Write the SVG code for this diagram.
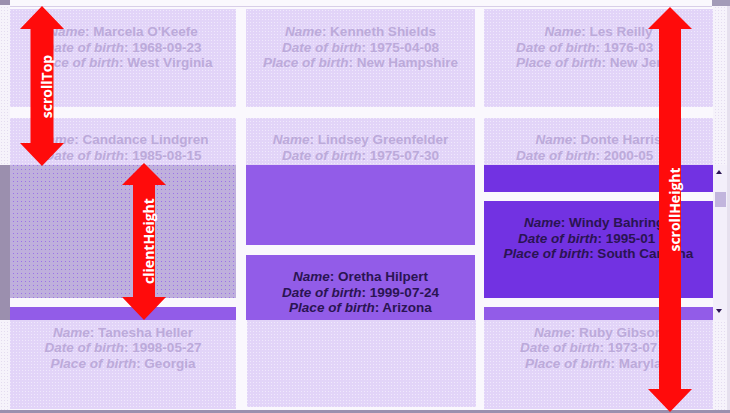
<svg xmlns="http://www.w3.org/2000/svg" width="730" height="413" viewBox="0 0 730 413">
<style>
.t{font-family:"Liberation Sans",Arial,sans-serif;font-weight:bold;font-size:13.5px}
.f{fill:#bcaada}
.d{fill:#2a1452}
.m{text-anchor:middle}
.i{font-style:italic}
.fade{fill:url(#fade)}
.arr{fill:#ff0b0b}
.lbl{font-family:"Open Sans","DejaVu Sans",sans-serif;font-weight:bold;font-size:14px;fill:#ffffff;text-anchor:middle}
</style>
<defs>
<pattern id="fade" width="3" height="3" patternUnits="userSpaceOnUse">
<rect width="3" height="3" fill="#e2d4f8"/>
<rect x="1" y="1" width="1" height="1" fill="#f0e9fc"/>
</pattern>
<pattern id="dots" width="4" height="4" patternUnits="userSpaceOnUse">
<rect width="4" height="4" fill="#bfb0dc"/>
<rect x="1" y="1" width="1" height="1" fill="#9b72e8"/>
</pattern>
<pattern id="light" width="3" height="3" patternUnits="userSpaceOnUse">
<rect width="3" height="3" fill="#f6f3fb"/>
<rect x="1" y="1" width="1" height="1" fill="#e4dcf0"/>
</pattern>
</defs>
<rect width="730" height="413" fill="#faf8fd"/>
<g id="frame">
<rect x="0" y="0" width="10" height="413" fill="url(#light)"/>
<rect x="0" y="0" width="10" height="5" fill="#9b8fae"/>
<rect x="0" y="165" width="10" height="155" fill="#9b8fae"/>
<rect x="712" y="0" width="18" height="6" fill="#a39bb8"/>
<rect x="713" y="6" width="14" height="404" fill="url(#light)"/>
<rect x="727" y="6" width="3" height="404" fill="#e6e0ee"/>
<line x1="10" y1="6.5" x2="712" y2="6.5" stroke="#d8cee8" stroke-width="1"/>
<rect x="0" y="410" width="730" height="3" fill="#9b8fae"/>
</g>
<g id="scrollbar">
<rect x="713" y="165" width="14" height="155" fill="#f3effa"/>
<polygon points="716,174 719,170 722,174" fill="#2a1452"/>
<polygon points="716,309 719,313 722,309" fill="#2a1452"/>
<rect x="715" y="192" width="11" height="15" fill="#c2b5dd"/>
</g>
<g id="card-marcela">
<rect x="10" y="9" width="226" height="98" class="fade"/>
<text class="t f m" x="123" y="36"><tspan class="i">Name</tspan>: Marcela O'Keefe</text>
<text class="t f m" x="123" y="52"><tspan class="i">Date of birth</tspan>: 1968-09-23</text>
<text class="t f m" x="123" y="67"><tspan class="i">Place of birth</tspan>: West Virginia</text>
</g>
<g id="card-candance">
<rect x="10" y="118" width="226" height="47" class="fade"/>
<rect x="10" y="165" width="226" height="133" fill="url(#dots)"/>
<text class="t f m" x="123" y="144"><tspan class="i">Name</tspan>: Candance Lindgren</text>
<text class="t f m" x="123" y="160"><tspan class="i">Date of birth</tspan>: 1985-08-15</text>
</g>
<g id="card-tanesha">
<rect x="10" y="307" width="226" height="13" fill="#925ce8"/>
<rect x="10" y="320" width="226" height="89" class="fade"/>
<text class="t f m" x="123" y="337"><tspan class="i">Name</tspan>: Tanesha Heller</text>
<text class="t f m" x="123" y="352"><tspan class="i">Date of birth</tspan>: 1998-05-27</text>
<text class="t f m" x="123" y="368"><tspan class="i">Place of birth</tspan>: Georgia</text>
</g>
<g id="card-kenneth">
<rect x="246" y="9" width="229" height="98" class="fade"/>
<text class="t f m" x="360.5" y="36"><tspan class="i">Name</tspan>: Kenneth Shields</text>
<text class="t f m" x="360.5" y="52"><tspan class="i">Date of birth</tspan>: 1975-04-08</text>
<text class="t f m" x="360.5" y="67"><tspan class="i">Place of birth</tspan>: New Hampshire</text>
</g>
<g id="card-lindsey">
<rect x="246" y="118" width="229" height="47" class="fade"/>
<rect x="246" y="165" width="229" height="80" fill="#925ce8"/>
<text class="t f m" x="360.5" y="144"><tspan class="i">Name</tspan>: Lindsey Greenfelder</text>
<text class="t f m" x="360.5" y="160"><tspan class="i">Date of birth</tspan>: 1975-07-30</text>
</g>
<g id="card-oretha">
<rect x="246" y="255" width="229" height="65" fill="#925ce8"/>
<rect x="247" y="320" width="229" height="87" class="fade"/>
<text class="t d m" x="360.5" y="281"><tspan class="i">Name</tspan>: Oretha Hilpert</text>
<text class="t d m" x="360.5" y="297"><tspan class="i">Date of birth</tspan>: 1999-07-24</text>
<text class="t d m" x="360.5" y="312"><tspan class="i">Place of birth</tspan>: Arizona</text>
</g>
<g id="card-les">
<rect x="484" y="9" width="229" height="98" class="fade"/>
<text class="t f m" x="598.5" y="36"><tspan class="i">Name</tspan>: Les Reilly</text>
<text class="t f" x="516" y="52"><tspan class="i">Date of birth</tspan>: 1976-03</text>
<text class="t f" x="516" y="67"><tspan class="i">Place of birth</tspan>: New Jer</text>
</g>
<g id="card-donte">
<rect x="484" y="118" width="229" height="47" class="fade"/>
<rect x="484" y="165" width="229" height="27" fill="#7232e2"/>
<text class="t f m" x="598.5" y="144"><tspan class="i">Name</tspan>: Donte Harris</text>
<text class="t f" x="516" y="160"><tspan class="i">Date of birth</tspan>: 2000-05</text>
</g>
<g id="card-windy">
<rect x="484" y="201" width="229" height="97" fill="#7232e2"/>
<text class="t d" x="524" y="227"><tspan class="i">Name</tspan>: Windy Bahring</text>
<text class="t d" x="518" y="243"><tspan class="i">Date of birth</tspan>: 1995-01</text>
<text class="t d m" x="598.5" y="258"><tspan class="i">Place of birth</tspan>: South Carolina</text>
</g>
<g id="card-ruby">
<rect x="484" y="307" width="229" height="13" fill="#925ce8"/>
<rect x="484" y="320" width="229" height="89" class="fade"/>
<text class="t f m" x="598.5" y="337"><tspan class="i">Name</tspan>: Ruby Gibson</text>
<text class="t f" x="520" y="352"><tspan class="i">Date of birth</tspan>: 1973-07</text>
<text class="t f" x="525" y="368"><tspan class="i">Place of birth</tspan>: Maryla</text>
</g>
<g id="connectors">
<g id="arrow-scrollTop">
<polygon class="arr" points="42,6 64,29 53.5,29 53.5,143 64,143 42,166 20,143 30.5,143 30.5,29 20,29"/>
<text class="lbl" transform="translate(46,86.5) rotate(-90)" dominant-baseline="central">scrollTop</text>
</g>
<g id="arrow-clientHeight">
<polygon class="arr" points="144,163 166,185 155,185 155,297 166,297 144,320 122,297 133,297 133,185 122,185"/>
<text class="lbl" transform="translate(148,241) rotate(-90)" dominant-baseline="central">clientHeight</text>
</g>
<g id="arrow-scrollHeight">
<polygon class="arr" points="670,7 692,29 681,29 681,389 692,389 670,412 648,389 659,389 659,29 648,29"/>
<text class="lbl" transform="translate(674,209.5) rotate(-90)" dominant-baseline="central">scrollHeight</text>
</g>
</g>
</svg>
